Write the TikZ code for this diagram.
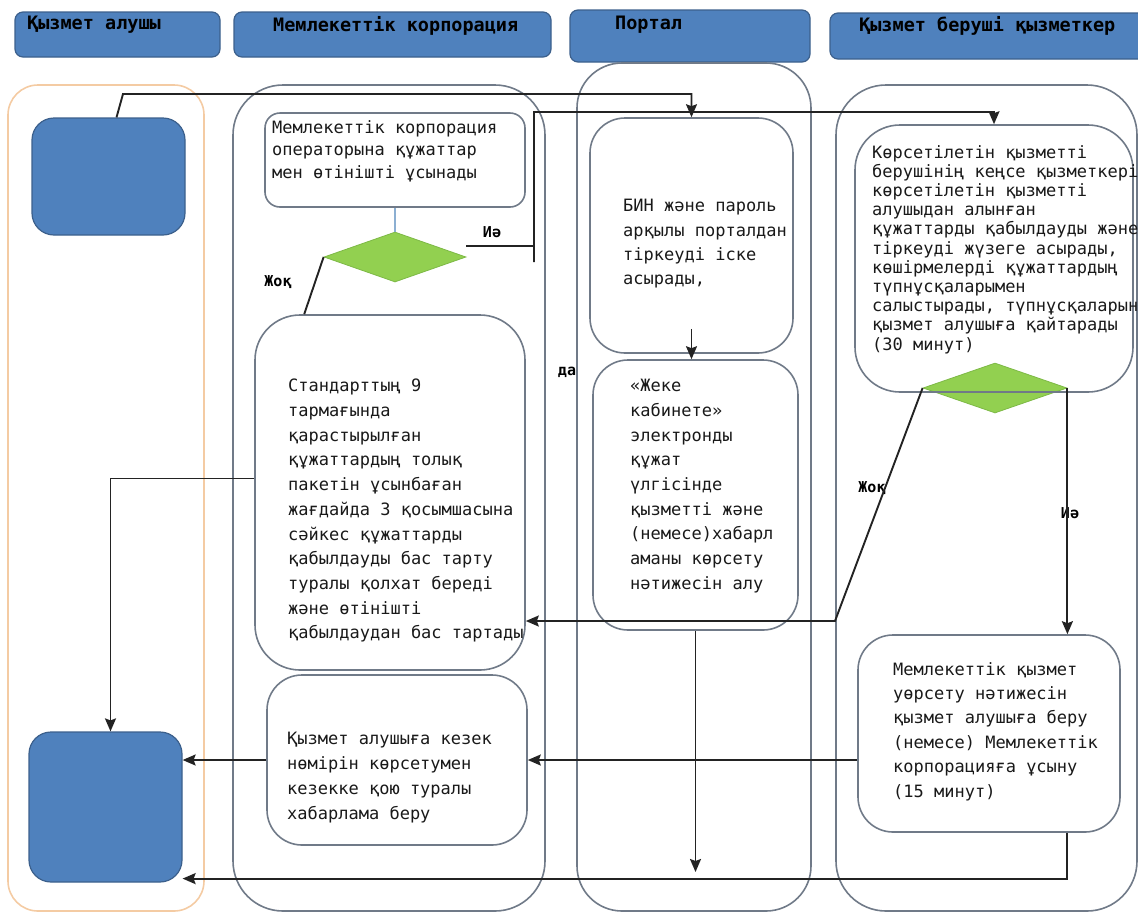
\documentclass[tikz,border=0pt]{standalone}
\usepackage{fontspec}
\setmainfont{DejaVu Sans Mono}
\usetikzlibrary{shapes.geometric,arrows.meta}
\definecolor{hdrblue}{RGB}{79,129,189}
\definecolor{hdrline}{RGB}{60,96,140}
\definecolor{laneline}{RGB}{112,122,136}
\definecolor{recline}{RGB}{244,203,163}
\definecolor{decgreen}{RGB}{146,208,80}
\definecolor{decline}{RGB}{125,185,70}
\definecolor{stemblue}{RGB}{140,175,210}
\definecolor{linkc}{RGB}{35,35,35}
\definecolor{txtc}{RGB}{25,25,25}
\begin{document}
\begin{tikzpicture}[
        x=1pt, y=-1pt,
        header/.style={draw=hdrline, fill=hdrblue, rounded corners=#1, line width=1.2pt, inner sep=0pt},
        lanebox/.style={draw=laneline, rounded corners=#1, line width=1.6pt, inner sep=0pt},
        stepbox/.style={draw=laneline, rounded corners=#1, line width=1.6pt, inner sep=0pt},
        dec/.style={draw=decline, fill=decgreen, diamond, inner sep=0pt, line width=0.8pt},
        hdrtxt/.style={anchor=north west, inner sep=0pt, text=black, font=\bfseries\fontsize{18.5}{22}\selectfont},
        txt/.style={anchor=north west, inner sep=0pt, align=left, text=txtc, font=\fontsize{17}{#1}\selectfont},
        lbl/.style={inner sep=0pt, text=black, font=\bfseries\fontsize{15}{18}\selectfont},
        link/.style={draw=linkc, line width=1.9pt},
        forward/.style={link, ->}, >={Stealth[length=13pt,width=11pt,inset=2pt]}
    ]
        \useasboundingbox (0,0) rectangle (1138,914);
        \node[header=8pt, minimum width=205, minimum height=45] (h1) at (117.5,34.5) {};
        \node[header=8pt, minimum width=317, minimum height=45] (h2) at (392.5,34.5) {};
        \node[header=8pt, minimum width=240, minimum height=52] (h3) at (690,36) {};
        \node[header=8pt, minimum width=320, minimum height=46] (h4) at (990,36) {};
        \node[hdrtxt] (h1t) at (27,16) {Қызмет алушы};
        \node[hdrtxt] (h2t) at (273,16) {Мемлекеттік корпорация};
        \node[hdrtxt] (h3t) at (615,16) {Портал};
        \node[hdrtxt] (h4t) at (859,16) {Қызмет беруші қызметкер};
        \node[lanebox=30pt, draw=recline, minimum width=196, minimum height=826] (lane1) at (106,498) {};
        \node[lanebox=50pt, minimum width=312, minimum height=826] (lane2) at (389,498) {};
        \node[lanebox=45pt, minimum width=234, minimum height=848] (lane3) at (694,487) {};
        \node[lanebox=50pt, minimum width=301, minimum height=826] (lane4) at (986.5,498) {};
        \node[header=22pt, minimum width=153, minimum height=117] (svc1) at (108.5,176.5) {};
        \node[header=22pt, minimum width=153, minimum height=150] (svc2) at (105.5,807) {};
        \node[stepbox=15pt, minimum width=260, minimum height=94] (op) at (395,160) {};
        \node[stepbox=45pt, minimum width=270, minimum height=355] (rej) at (390,492.5) {};
        \node[stepbox=35pt, minimum width=260, minimum height=170] (que) at (397,760) {};
        \node[stepbox=35pt, minimum width=203, minimum height=235] (bin) at (691.5,235.5) {};
        \node[stepbox=35pt, minimum width=205, minimum height=270] (cab) at (695.5,495) {};
        \node[dec, minimum width=142, minimum height=50] (dia1) at (395,257) {};
        \node[dec, minimum width=144, minimum height=50] (dia2) at (995,388) {};
        \node[stepbox=45pt, minimum width=278, minimum height=267] (prov) at (994,258.5) {};
        \node[stepbox=35pt, minimum width=262, minimum height=197] (res) at (989,733.5) {};
        \node[txt=22.5] (opt) at (272,120) {Мемлекеттік корпорация\\операторына құжаттар\\мен өтінішті ұсынады};
        \node[txt=24.7] (rejt) at (288,379) {Стандарттың 9\\тармағында\\қарастырылған\\құжаттардың толық\\пакетін ұсынбаған\\жағдайда 3 қосымшасына\\сәйкес құжаттарды\\қабылдауды бас тарту\\туралы қолхат береді\\және өтінішті\\қабылдаудан бас тартады};
        \node[txt=25] (quet) at (287,732) {Қызмет алушыға кезек\\нөмірін көрсетумен\\кезекке қою туралы\\хабарлама беру};
        \node[txt=24.4] (bint) at (623,199) {БИН және пароль\\арқылы порталдан\\тіркеуді іске\\асырады,};
        \node[txt=24.7] (cabt) at (630,379) {«Жеке\\кабинете»\\электронды\\құжат\\үлгісінде\\қызметті және\\(немесе)хабарл\\аманы көрсету\\нәтижесін алу};
        \node[txt=19.2] (provt) at (872,145) {Көрсетілетін қызметті\\берушінің кеңсе қызметкері\\көрсетілетін қызметті\\алушыдан алынған\\құжаттарды қабылдауды және\\тіркеуді жүзеге асырады,\\көшірмелерді құжаттардың\\түпнұсқаларымен\\салыстырады, түпнұсқаларын\\қызмет алушыға қайтарады\\(30 минут)};
        \node[txt=24.4] (rest) at (893,662) {Мемлекеттік қызмет\\уөрсету нәтижесін\\қызмет алушыға беру\\(немесе) Мемлекеттік\\корпорацияға ұсыну\\(15 минут)};
        \node[lbl] (yes1) at (492,232) {Иә};
        \node[lbl] (no1) at (278,282) {Жоқ};
        \node[lbl] (da) at (567,372) {да};
        \node[lbl] (no2) at (872,488) {Жоқ};
        \node[lbl] (yes2) at (1070,513) {Иә};
        \coordinate (nobend) at (835,621);
        \coordinate (portalend) at (698,872);
        \draw[forward] ([xshift=8pt]svc1.north) -- (123,94) -| (bin.north);
        \draw[link, draw=stemblue, line width=1.2pt] (op.south) -- (dia1.north);
        \draw[forward] ([yshift=11pt]dia1.east) -| (534,262) -- (534,112) -| (prov.north);
        \draw[link] (dia1.west) -- ([xshift=50pt]rej.north west);
        \draw[forward] ([yshift=14pt]rej.west) -| ([xshift=5pt]svc2.north);
        \draw[forward] ([yshift=25pt]bin.south) -- (bin.south |- cab.north);
        \draw[forward] (cab.south) -- (cab.south |- portalend);
        \draw[forward] (dia2.west) -- (nobend) -- (nobend -| rej.east);
        \draw[forward] (dia2.east) -- (dia2.east |- res.north);
        \draw[forward] (res.west |- que.east) -- (que.east);
        \draw[forward] (que.west) -- (que.west -| svc2.east);
        \draw[forward] (res.south -| dia2.east) |- ([yshift=4pt]svc2.south east);
    \end{tikzpicture}
\end{document}
